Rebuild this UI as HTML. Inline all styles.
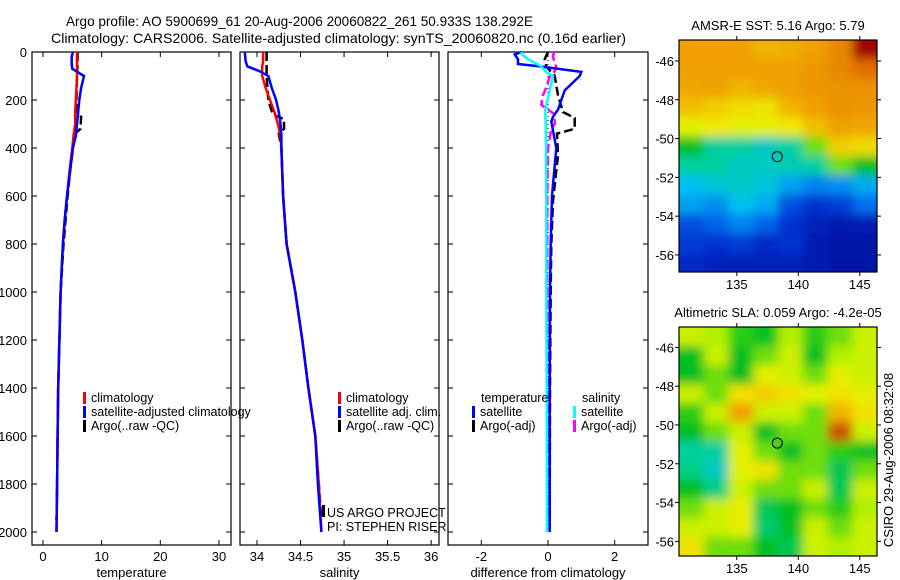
<!DOCTYPE html>
<html><head><meta charset="utf-8"><style>
html,body{margin:0;padding:0;background:#fff;}
svg{display:block;font-family:"Liberation Sans",sans-serif;}
</style></head><body>
<svg id="fig" width="900" height="580" viewBox="0 0 900 580" xmlns="http://www.w3.org/2000/svg">
<text x="66" y="26" font-size="14" textLength="467" lengthAdjust="spacingAndGlyphs">Argo profile: AO 5900699_61 20-Aug-2006 20060822_261 50.933S 138.292E</text>
<text x="51" y="43" font-size="14" textLength="575" lengthAdjust="spacingAndGlyphs">Climatology: CARS2006. Satellite-adjusted climatology: synTS_20060820.nc (0.16d earlier)</text>
<g id="g"></g>
</svg>
<script>
// ---- profile data ----
const tDepth = [0, 20, 50, 70, 100, 150, 200, 250, 300, 350, 400, 500, 600, 700, 800, 1000, 1200, 1400, 1600, 1800, 2000];
const tClim  = [5.8, 5.8, 5.8, 5.8, 5.8, 5.7, 5.6, 5.5, 5.5, 5.2, 5.0, 4.5, 4.1, 3.7, 3.4, 3.0, 2.8, 2.6, 2.5, 2.4, 2.3];
const tSat   = [5.1, 4.9, 4.9, 5.0, 7.0, 6.5, 6.2, 6.0, 5.8, 5.6, 5.1, 4.6, 4.1, 3.7, 3.4, 3.0, 2.8, 2.6, 2.5, 2.4, 2.3];
const tArgoDepth = [0, 50, 100, 200, 250, 270, 320, 340, 400, 500, 600, 800, 1000, 1200, 1400, 1600, 1800, 1950];
const tArgo  = [5.9, 5.9, 5.8, 5.7, 5.8, 6.5, 6.4, 5.5, 5.1, 4.6, 4.2, 3.5, 3.0, 2.8, 2.6, 2.5, 2.4, 2.3];
const sDepth = [0, 40, 60, 80, 100, 150, 200, 250, 300, 350, 400, 600, 800, 1000, 1200, 1400, 1600, 1800, 2000];
const sClim  = [34.07, 34.07, 34.06, 34.06, 34.06, 34.10, 34.15, 34.20, 34.24, 34.27, 34.28, 34.30, 34.34, 34.44, 34.52, 34.59, 34.67, 34.71, 34.74];
const sSat   = [33.86, 33.87, 33.89, 34.03, 34.13, 34.17, 34.22, 34.25, 34.27, 34.28, 34.28, 34.30, 34.34, 34.44, 34.52, 34.59, 34.67, 34.70, 34.74];
const sArgoDepth = [0, 100, 200, 260, 280, 320, 340, 400, 600, 800, 1000, 1200, 1400, 1600, 1800, 1950];
const sArgo  = [34.11, 34.11, 34.13, 34.18, 34.31, 34.31, 34.25, 34.28, 34.30, 34.34, 34.44, 34.52, 34.59, 34.67, 34.71, 34.74];
const dDepth = [0, 10, 30, 50, 60, 83, 100, 160, 240, 270, 290, 400, 600, 800, 1000, 1400, 2000];
const dTSat  = [-0.78, -1.0, -0.9, -0.9, -0.25, 1.0, 0.95, 0.5, 0.3, 0.15, 0.1, 0.25, 0.12, 0.08, 0.06, 0.05, 0.05];
const dSSat  = [-0.8, -0.78, -0.6, -0.33, -0.2, -0.06, 0.15, 0.05, -0.08, -0.08, -0.07, -0.06, -0.05, -0.05, -0.05, -0.04, -0.03];
const dTArgoDepth = [0, 30, 60, 100, 180, 250, 275, 320, 340, 430, 620, 800, 1000, 1400, 1950];
const dTArgo = [0.0, -0.1, -0.05, 0.2, 0.3, 0.45, 0.8, 0.8, 0.27, 0.3, 0.15, 0.1, 0.08, 0.06, 0.05];
const dSArgoDepth = [0, 20, 60, 80, 100, 150, 180, 220, 260, 300, 320, 400, 600, 1000, 1950];
const dSArgo = [0.18, 0.15, 0.24, 0.2, 0.06, -0.06, -0.15, -0.2, 0.2, 0.2, 0.1, 0.0, -0.02, -0.02, -0.02];
const depthTicks = [0, 200, 400, 600, 800, 1000, 1200, 1400, 1600, 1800, 2000];
const tTicks = [0, 10, 20, 30];
const sTicks = [34, 34.5, 35, 35.5, 36];
const dTicks = [-2, 0, 2];
// ---- map data (values 0..1 on colormap), rows north->south, cols west->east ----
const sstGrid = [
 [.75,.75,.75,.72,.73,.75,.80,.95],
 [.75,.75,.75,.75,.75,.77,.80,.85],
 [.74,.75,.72,.74,.75,.77,.78,.78],
 [.70,.68,.66,.65,.72,.75,.78,.77],
 [.62,.64,.62,.62,.64,.70,.75,.74],
 [.50,.45,.45,.42,.45,.55,.68,.66],
 [.45,.45,.42,.42,.43,.45,.55,.50],
 [.38,.40,.42,.40,.35,.32,.33,.36],
 [.35,.33,.38,.36,.25,.20,.22,.30],
 [.25,.28,.32,.28,.20,.15,.12,.13],
 [.22,.20,.22,.18,.20,.12,.10,.10],
 [.18,.15,.15,.15,.15,.12,.10,.10]];
const slaGrid = [
 [.60,.58,.52,.50,.58,.52,.55,.60],
 [.50,.60,.50,.55,.60,.50,.58,.60],
 [.50,.55,.50,.62,.60,.55,.62,.60],
 [.60,.55,.65,.68,.65,.62,.65,.62],
 [.52,.60,.75,.60,.60,.55,.72,.65],
 [.50,.55,.60,.50,.55,.55,.88,.60],
 [.45,.45,.62,.55,.50,.55,.52,.50],
 [.46,.42,.62,.65,.55,.55,.48,.55],
 [.50,.46,.60,.55,.55,.60,.48,.60],
 [.55,.60,.62,.48,.50,.55,.52,.58],
 [.60,.60,.62,.47,.50,.60,.55,.60],
 [.65,.55,.55,.50,.48,.60,.58,.60]];
const lonTicks = [135, 140, 145];
const latTicks = [-46, -48, -50, -52, -54, -56];
const argoLon = 138.292, argoLat = -50.933;

const NS = "http://www.w3.org/2000/svg";
const G = document.getElementById('g');
function mk(tag, attrs, parent){const e=document.createElementNS(NS,tag);for(const k in attrs)e.setAttribute(k,attrs[k]);(parent||G).appendChild(e);return e;}
function txt(s, attrs, parent){const e=mk('text',attrs,parent);e.textContent=s;return e;}

const PT = 52, PB = 545;
const yD = d => 52 + d*0.24;
function panel(name, x0, x1, xmin, xmax, ticks, label, showY){
  const g = mk('g',{});
  
  
  const sx = v => x0 + (v-xmin)/(xmax-xmin)*(x1-x0);
  mk('rect',{x:x0,y:PT,width:x1-x0,height:PB-PT,fill:'none',stroke:'#000','stroke-width':1.2},g);
  ticks.forEach(t=>{
    const x=sx(t);
    mk('line',{x1:x,x2:x,y1:PB,y2:PB-5,stroke:'#000'},g);
    mk('line',{x1:x,x2:x,y1:PT,y2:PT+5,stroke:'#000'},g);
    const l=txt(String(t),{x:x,y:561,'font-size':13,'text-anchor':'middle'},g);
    
    
  });
  depthTicks.forEach(d=>{
    const y=yD(d);
    mk('line',{x1:x0,x2:x0+5,y1:y,y2:y,stroke:'#000'},g);
    mk('line',{x1:x1,x2:x1-5,y1:y,y2:y,stroke:'#000'},g);
    if(showY){const l=txt(String(d),{x:x0-5,y:y+5,'font-size':13,'text-anchor':'end'},g);
      
      }
  });
  const a=txt(label,{x:(x0+x1)/2,y:577,'font-size':13,'text-anchor':'middle'},g);
  
  
  return {g,sx};
}
function line(p, depths, vals, color, name, dash, w){
  const pts = depths.map((d,i)=>p.sx(vals[i]).toFixed(1)+','+yD(d).toFixed(1)).join(' ');
  const e=mk('polyline',{points:pts,fill:'none',stroke:color,'stroke-width':w||2.5});
  if(dash) e.setAttribute('stroke-dasharray',dash);
  
  
  p.g.appendChild(e);
}
function legend(g, x, y, color, label){
  mk('rect',{x:x,y:y-10,width:3,height:12,fill:color},g);
  const t=txt(label,{x:x+8,y:y,'font-size':12.5},g);
  
  
}

const p1 = panel('temperature-panel', 32, 231, -1.87, 32.05, tTicks, 'temperature', true);
line(p1, tArgoDepth, tArgo, '#000', 'temp-argo-line', '9,4');
line(p1, tDepth, tClim, '#f00', 'temp-climatology-line');
line(p1, tDepth, tSat, '#0000ff', 'temp-satellite-line');
legend(p1.g, 83, 402, '#f00', 'climatology');
legend(p1.g, 83, 416, '#0000ff', 'satellite-adjusted climatology');
legend(p1.g, 83, 430, '#000', 'Argo(..raw -QC)');

const p2 = panel('salinity-panel', 240, 439, 33.805, 36.09, sTicks, 'salinity', false);
line(p2, sArgoDepth, sArgo, '#000', 'sal-argo-line', '9,4');
line(p2, sDepth, sClim, '#f00', 'sal-climatology-line');
line(p2, sDepth, sSat, '#0000ff', 'sal-satellite-line');
legend(p2.g, 338, 402, '#f00', 'climatology');
legend(p2.g, 338, 416, '#0000ff', 'satellite adj. clim.');
legend(p2.g, 338, 430, '#000', 'Argo(..raw -QC)');
mk('rect',{x:322,y:505,width:3,height:12,fill:'#000'},p2.g);
const us=txt('US ARGO PROJECT',{x:327,y:517,'font-size':12.5},p2.g);


const pi=txt('PI: STEPHEN RISER',{x:327,y:531,'font-size':12.5},p2.g);



const p3 = panel('difference-panel', 448, 648, -3.0, 3.0, dTicks, 'difference from climatology', false);
mk('line',{x1:p3.sx(0),x2:p3.sx(0),y1:yD(0),y2:yD(2000),stroke:'#000','stroke-dasharray':'1,3'},p3.g);
line(p3, dTArgoDepth, dTArgo, '#000', 'diff-temp-argo-line', '9,4');
line(p3, dSArgoDepth, dSArgo, '#ff00ff', 'diff-sal-argo-line', '9,4');
line(p3, dDepth, dTSat, '#0000ff', 'diff-temp-satellite-line');
line(p3, dDepth, dSSat, '#00ffff', 'diff-sal-satellite-line');
txt('temperature',{x:481,y:402,'font-size':12.5},p3.g);
txt('salinity',{x:582,y:402,'font-size':12.5},p3.g);
legend(p3.g, 472, 416, '#0000ff', 'satellite');
legend(p3.g, 472, 430, '#000', 'Argo(-adj)');
legend(p3.g, 573, 416, '#00ffff', 'satellite');
legend(p3.g, 573, 430, '#ff00ff', 'Argo(-adj)');

// ---- maps ----
const cstops=[[0,[0,0,128]],[.2,[0,48,208]],[.3,[0,112,240]],[.38,[0,192,240]],[.45,[0,208,160]],[.5,[0,192,32]],[.58,[176,240,0]],[.63,[240,240,0]],[.7,[240,192,0]],[.75,[240,160,0]],[.85,[224,112,0]],[.95,[160,0,0]],[1,[140,0,0]]];
function cmap(v){for(let i=1;i<cstops.length;i++){if(v<=cstops[i][0]){const a=cstops[i-1],b=cstops[i];const f=(v-a[0])/(b[0]-a[0]);const c=a[1].map((x,k)=>Math.round(x+(b[1][k]-x)*f));return 'rgb('+c.join(',')+')';}}return 'rgb(140,0,0)';}
function map(name, grid, y0, y1, latTop, title, blurId){
  const x0=679,x1=877;
  const g=mk('g',{});
  
  
  const lonMin=130.3, lonMax=146.4, latBot=latTop-(y1-y0)/19.4;
  const sx=l=>x0+(l-lonMin)/(lonMax-lonMin)*(x1-x0);
  const sy=la=>y0+(latTop-la)/(latTop-latBot)*(y1-y0);
  const defs=mk('defs',{},g);
  const f=mk('filter',{id:blurId,x:'-0.1',y:'-0.1',width:'1.2',height:'1.2'},defs);
  mk('feGaussianBlur',{stdDeviation:5},f);
  const cp=mk('clipPath',{id:blurId+'c'},defs);
  mk('rect',{x:x0,y:y0,width:x1-x0,height:y1-y0},cp);
  const cg=mk('g',{'clip-path':'url(#'+blurId+'c)'},g);
  const inner=mk('g',{filter:'url(#'+blurId+')'},cg);
  const nr=grid.length,nc=grid[0].length;
  const cw=(x1-x0)/nc,ch=(y1-y0)/nr;
  grid.forEach((row,r)=>row.forEach((v,c)=>{
    const cell=mk('rect',{x:x0+c*cw-(c==0?20:0),y:y0+r*ch-(r==0?20:0),width:cw+(c==0||c==nc-1?20:0)+0.5,height:ch+(r==0||r==nr-1?20:0)+0.5,fill:cmap(v)},inner);
    
    
  }));
  mk('rect',{x:x0,y:y0,width:x1-x0,height:y1-y0,fill:'none',stroke:'#000','stroke-width':1.2},g);
  lonTicks.forEach(l=>{const x=sx(l);
    mk('line',{x1:x,x2:x,y1:y1,y2:y1+4,stroke:'#000'},g);
    mk('line',{x1:x,x2:x,y1:y0,y2:y0-4,stroke:'#000'},g);
    const t=txt(String(l),{x:x,y:y1+17,'font-size':13,'text-anchor':'middle'},g);
    
    });
  latTicks.forEach(la=>{const y=sy(la);
    mk('line',{x1:x0,x2:x0-4,y1:y,y2:y,stroke:'#000'},g);
    mk('line',{x1:x1,x2:x1+4,y1:y,y2:y,stroke:'#000'},g);
    const t=txt(String(la),{x:x0-5,y:y+5,'font-size':13,'text-anchor':'end'},g);
    
    });
  const c=mk('circle',{cx:sx(argoLon),cy:sy(argoLat),r:5,fill:'none',stroke:'#000','stroke-width':1},g);
  
  
  const t=txt(title,{x:(x0+x1)/2,y:y0-10,'font-size':13,'text-anchor':'middle'},g);
  
  
}
map('sst-map', sstGrid, 40, 272, -44.92, 'AMSR-E SST: 5.16 Argo: 5.79', 'b1');
map('sla-map', slaGrid, 327, 556, -44.95, 'Altimetric SLA: 0.059 Argo: -4.2e-05', 'b2');
const cs=txt('CSIRO 29-Aug-2006 08:32:08',{x:0,y:0,'font-size':13,'text-anchor':'middle',transform:'translate(893,460) rotate(-90)'});


</script>
</body></html>
